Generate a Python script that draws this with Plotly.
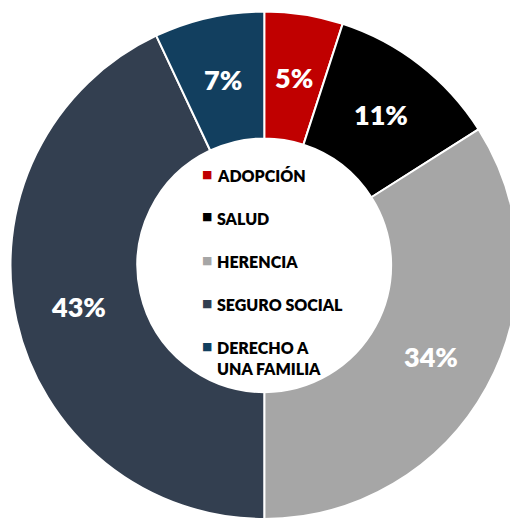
import math

import plotly.graph_objects as go

labels = ["ADOPCIÓN", "SALUD", "HERENCIA", "SEGURO SOCIAL", "DERECHO A<br>UNA FAMILIA"]
values = [5, 11, 34, 43, 7]
colors = ["#C00000", "#000000", "#A6A6A6", "#333F50", "#123F5F"]

# the page body keeps its 8px margin, so the figure is sized to fit without scrollbars
W, H = 510, 511
OFF = 8
FONT = "Lato, Open Sans, sans-serif"
HOLE = 0.5

# donut geometry in figure pixels
left, top, D = 2.5, 3.5, 507.5
R = D / 2
fx, fy = left + R, top + R

fig = go.Figure(
    go.Pie(
        labels=labels,
        values=values,
        hole=HOLE,
        sort=False,
        direction="clockwise",
        rotation=0,
        marker=dict(colors=colors, line=dict(color="white", width=2)),
        textinfo="none",
        domain=dict(x=[left / W, 1], y=[0, 1 - top / H]),
        hoverinfo="label+percent",
        showlegend=False,
    )
)

# percent labels in the middle of the ring
total = sum(values)
r_mid = R * (1 + HOLE) / 2
cum = 0
for v in values:
    ang = 2 * math.pi * (cum + v / 2) / total
    cum += v
    fig.add_annotation(
        x=(fx + r_mid * math.sin(ang)) / W,
        y=1 - (fy - r_mid * math.cos(ang)) / H,
        xref="paper", yref="paper", showarrow=False,
        xanchor="center", yanchor="middle",
        text=f"{v}%",
        font=dict(color="white", size=27, family=FONT, weight=800),
    )

# legend drawn inside the hole
row_top, row_step = 174, 43
for i, (lab, col) in enumerate(zip(labels, colors)):
    py = row_top + i * row_step - OFF
    fig.add_annotation(
        x=(207 - OFF) / W, y=1 - py / H, xref="paper", yref="paper",
        text="■", showarrow=False, xanchor="center", yanchor="middle",
        font=dict(color=col, size=11, family="DejaVu Sans"),
    )
    fig.add_annotation(
        x=(215 - OFF) / W, y=1 - (py - 10.5) / H, xref="paper", yref="paper",
        text=lab, showarrow=False, xanchor="left", yanchor="top", align="left",
        font=dict(color="black", size=16, family=FONT, weight=800),
    )

fig.update_layout(
    width=W,
    height=H,
    margin=dict(l=0, r=0, t=0, b=0),
    paper_bgcolor="white",
    plot_bgcolor="white",
)

fig.write_html("out.html")
